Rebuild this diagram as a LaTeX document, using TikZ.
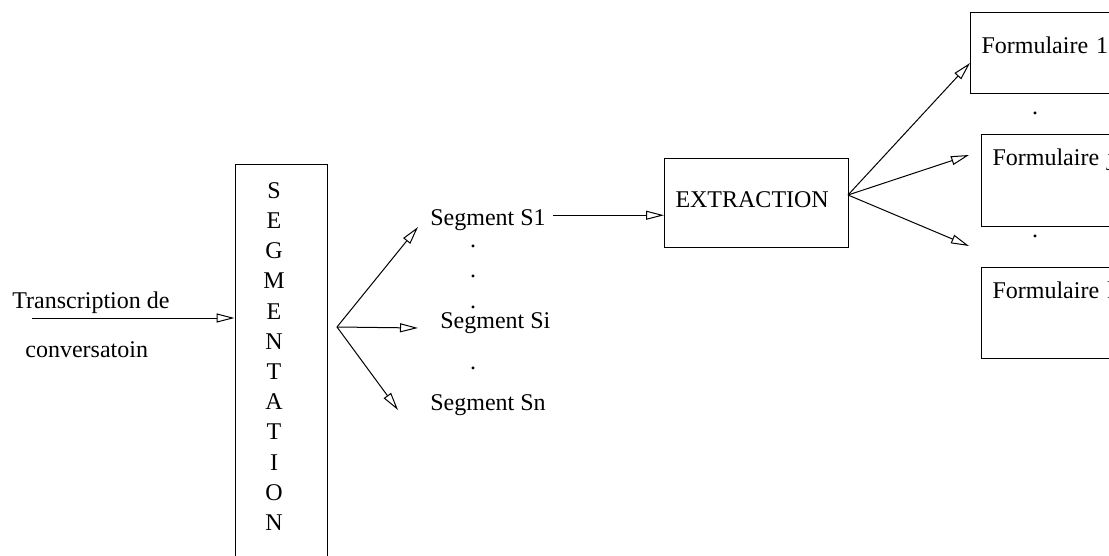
\documentclass[tikz,border=0pt]{standalone}
\usepackage{fontspec}
\setmainfont{Liberation Serif}
\usetikzlibrary{arrows.meta}

\begin{document}
\begin{tikzpicture}[x=0.5pt, y=-0.5pt,
		every node/.style={font=\fontsize{12}{13.9}\selectfont, inner sep=0pt},
		boite/.style={draw, line width=0.5pt, align=left, inner xsep=5.5pt, inner ysep=0pt, anchor=north west},
		texte/.style={anchor=base west},
		point/.style={anchor=base},
		fl/.style={line width=0.5pt, -{Triangle[open, length=9pt, width=4.5pt]}}]
		\useasboundingbox (0,0) rectangle (1109,556);
		
		\node[texte] (trans) at (12,308) {Transcription de};
		\node[texte] (conv) at (25,357) {conversatoin};
		\coordinate (entree) at (32,318);
		
		\node[draw, line width=0.5pt, minimum width=46pt, minimum height=220pt, anchor=north] (seg) at (281,164) {};
		\node[anchor=north, align=center, font=\fontsize{12}{15.1}\selectfont] (segtxt) at (274,182) {S\\E\\G\\M\\E\\N\\T\\A\\T\\I\\O\\N};
		
		\coordinate (fan) at (337,327);
		\coordinate (f1) at (418,227);
		\coordinate (f2) at (418,328);
		\coordinate (f3) at (398,410);
		
		\node[texte] (s1) at (430,226) {Segment S1};
		\node[texte] (si) at (440,328) {Segment Si};
		\node[texte] (sn) at (430,410) {Segment Sn};
		\node[point] (d1) at (473,247) {.};
		\node[point] (d2) at (473,277) {.};
		\node[point] (d3) at (473,308) {.};
		\node[point] (d4) at (473,369) {.};
		\coordinate (s1out) at ([xshift=3.5pt, yshift=2.7pt]s1.east);
		
		\node[boite, text width=81pt, text height=24.5pt, text depth=20pt] (ext) at (664,158) {EXTRACTION};
		\coordinate (e0) at (848,195);
		
		\node[boite, text width=80pt, text height=20.5pt, text depth=20pt] (form1) at (970,12) {Formulaire 1};
		\node[boite, text width=80pt, text height=15.5pt, text depth=30.5pt] (formj) at (981,134) {Formulaire j};
		\node[boite, text width=80pt, text height=15.5pt, text depth=30pt] (formk) at (981,267) {Formulaire k};
		\node[point] (d5) at (1035,115) {.};
		\node[point] (d6) at (1035,237) {.};
		\coordinate (g1) at (form1.west |- 0,63);
		\coordinate (g2) at (969,155);
		\coordinate (g3) at (969,246);
		
		\path[fl]
		(entree) edge (entree -| seg.west)
		(fan) edge (f1)
			edge (f2)
			edge (f3)
		(s1out) edge (s1out -| ext.west)
		(e0) edge (g1)
			edge (g2)
			edge (g3);
		
	\end{tikzpicture}
\end{document}
